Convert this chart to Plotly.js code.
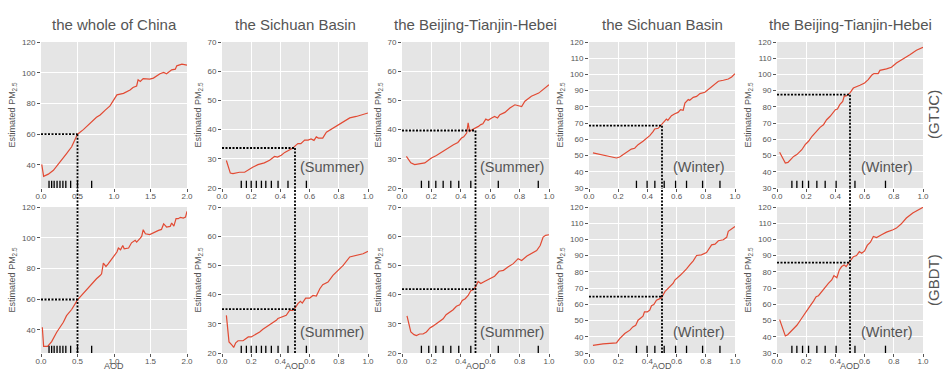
<!DOCTYPE html>
<html>
<head>
<meta charset="utf-8">
<script src="https://cdn.plot.ly/plotly-3.0.1.min.js"></script>
<style>html,body{margin:0;padding:0;background:#fff;}#chart{width:946px;height:372px;}</style>
</head>
<body>
<div id="chart"></div>
<script>
// ---- Data ----
var panelTitles = ["the whole of China", "the Sichuan Basin", "the Beijing-Tianjin-Hebei", "the Sichuan Basin", "the Beijing-Tianjin-Hebei"];
var seasonLabels = ["", "(Summer)", "(Summer)", "(Winter)", "(Winter)"];
var rowLabels = ["(GTJC)", "(GBDT)"];
var xAxisTitle = "AOD";
var yAxisTitle = "Estimated PM<sub>2.5</sub>";

var chinaGTJC_x = [0.01,0.036,0.1,0.17,0.35,0.42,0.5,0.58,0.76,0.81,0.88,0.945,1.04,1.13,1.22,1.26,1.31,1.33,1.36,1.4,1.49,1.54,1.63,1.68,1.72,1.79,1.84,1.86,1.93,1.97,2.0];
var chinaGTJC_y = [40.4,32.6,34,36.5,47.4,51.8,60,63,71,72.5,75.7,78.4,85.6,86.6,88.8,90.4,91.4,95.4,94.3,96.2,95.8,96.5,99.3,100.2,99.3,101.9,102.3,104.5,105.6,105.4,105];
var chinaGBDT_x = [0.018,0.036,0.09,0.146,0.215,0.306,0.35,0.42,0.5,0.58,0.67,0.76,0.81,0.83,0.854,0.89,0.92,0.99,1.04,1.06,1.09,1.12,1.14,1.2,1.24,1.29,1.31,1.36,1.38,1.4,1.43,1.49,1.54,1.61,1.65,1.68,1.7,1.72,1.77,1.79,1.82,1.85,1.88,1.91,1.95,1.98,2.0];
var chinaGBDT_y = [41.7,29.3,29.3,32.4,38.5,45,49.3,53.3,59.6,64,68.9,73.3,75.4,76.5,83.5,81.3,83,87.4,90.7,93.3,92.2,95,92.8,93.3,96.7,98.3,97.2,99.8,101,105.2,102.6,102,103.3,104.8,105.4,109,108,107,107.4,109.6,107.6,112.4,112.4,113.3,112.8,113.5,117.2];

var scSummerGTJC_x = [0.03,0.057,0.075,0.12,0.155,0.18,0.21,0.246,0.29,0.326,0.35,0.36,0.38,0.406,0.43,0.46,0.486,0.505,0.52,0.54,0.566,0.59,0.61,0.63,0.646,0.66,0.69,0.715,0.76,0.806,0.85,0.875,0.92,0.966,1.0];
var scSummerGTJC_y = [29.4,25.1,24.9,25.4,25.4,26.3,27.1,28,28.6,29.5,30.3,30.8,30.6,31.2,32.2,32.9,33.7,34.6,35.2,35.2,36.4,36.4,36.8,36.3,37.5,37.1,37.1,39.1,40.5,42,43.4,44,44.5,45.1,45.7];
var scSummerGBDT_x = [0.03,0.048,0.07,0.08,0.094,0.11,0.144,0.167,0.18,0.2,0.235,0.258,0.28,0.315,0.35,0.372,0.383,0.406,0.44,0.463,0.486,0.505,0.52,0.537,0.55,0.573,0.6,0.623,0.646,0.67,0.69,0.726,0.76,0.795,0.83,0.875,0.92,0.966,1.0];
var scSummerGBDT_y = [32.9,23.8,22.6,21.9,23.5,24.2,24.2,24.9,25.5,25.5,26.4,27.2,28.1,29.2,30.6,31.2,31.8,32.3,32.9,34.6,34.6,35.7,36.9,37.7,37.1,38.8,38.8,39.7,39.5,42,43.4,44.3,46.6,48.3,50,52.9,53.4,54,54.8];

var bthSummerGTJC_x = [0.03,0.06,0.086,0.13,0.155,0.177,0.2,0.234,0.268,0.29,0.314,0.35,0.38,0.405,0.42,0.44,0.45,0.46,0.47,0.495,0.52,0.536,0.55,0.57,0.586,0.61,0.63,0.65,0.666,0.7,0.734,0.768,0.814,0.836,0.88,0.93,0.973,1.0];
var bthSummerGTJC_y = [30.8,28.6,28,28.4,28.6,29.4,30.3,31.1,32.2,33.1,33.9,34.8,35.6,37.1,37.5,38.8,42.3,39.4,39.8,40.4,41.1,41.7,42,43.6,43.2,44,44.5,44,45.1,45.9,47.4,48.5,47.9,49.7,51.4,52.5,54.2,55.4];
var bthSummerGBDT_x = [0.034,0.06,0.082,0.098,0.12,0.143,0.166,0.19,0.21,0.234,0.257,0.28,0.3,0.325,0.348,0.37,0.393,0.41,0.43,0.45,0.468,0.484,0.5,0.518,0.536,0.564,0.6,0.63,0.66,0.69,0.723,0.757,0.79,0.814,0.85,0.88,0.916,0.94,0.96,0.977,1.0];
var bthSummerGBDT_y = [32.7,27.2,26.3,26,26.5,26.5,27.2,28.6,29.2,30,30.8,31.7,33.1,34,34.8,36,36.5,38,38.6,39.7,41.3,41.7,42.6,44.5,43.8,44.6,45.4,46.3,48,48.3,49.5,50.6,52.3,51.7,53.2,54,55.1,56.8,59.7,60.3,60.5];

var scWinterGTJC_x = [0.027,0.096,0.14,0.188,0.21,0.245,0.268,0.29,0.313,0.336,0.37,0.394,0.416,0.44,0.45,0.474,0.497,0.52,0.53,0.54,0.565,0.588,0.61,0.627,0.645,0.657,0.68,0.69,0.714,0.737,0.76,0.794,0.828,0.863,0.886,0.92,0.954,0.977,1.0];
var scWinterGTJC_y = [51.6,50.3,49.5,48.5,49.1,51.2,53,54,54.5,56.7,58.8,60.6,62.3,64.9,66.4,66.8,69,71.7,72.5,71.7,74.6,75.8,76.6,78.3,77.9,82.4,84.5,84.1,85.9,86.5,88.2,89,91.6,93.7,95.8,96.4,97.2,98.4,100.5];
var scWinterGBDT_x = [0.027,0.096,0.188,0.21,0.245,0.28,0.3,0.32,0.336,0.36,0.37,0.38,0.4,0.416,0.428,0.444,0.462,0.478,0.497,0.52,0.54,0.565,0.577,0.588,0.61,0.627,0.64,0.657,0.668,0.69,0.714,0.737,0.77,0.805,0.828,0.84,0.863,0.886,0.92,0.943,0.954,0.977,1.0];
var scWinterGBDT_y = [34.7,35.6,36.2,38.9,42,44.1,46.1,47.1,50.2,51.7,52.7,55.4,55.4,56.4,59.1,59.9,62.6,63.2,64.1,67.8,69.8,71.9,73,75,77.1,78.1,79.2,81.2,81.8,84.3,86.8,90.1,90.5,91.9,94.6,96.7,97.1,99.2,99.8,101.3,105,106.4,108];

var bthWinterGTJC_x = [0.018,0.045,0.057,0.075,0.09,0.114,0.136,0.16,0.17,0.193,0.216,0.24,0.25,0.273,0.295,0.318,0.34,0.364,0.386,0.4,0.414,0.43,0.45,0.46,0.477,0.5,0.523,0.545,0.568,0.6,0.625,0.648,0.664,0.693,0.705,0.75,0.784,0.818,0.864,0.91,0.955,1.0];
var bthWinterGTJC_y = [52,47.9,45.4,45.8,47.5,49.5,50.6,52.6,53.6,56.7,58.8,61.9,62.9,64.9,67.4,69,72.1,74.2,76.6,78.3,78.7,81.4,83.4,86.5,86.9,88.6,91.6,92.3,93.3,94.7,96.8,99.5,100.5,100.5,102.5,103.4,104.4,107.1,109.5,112.2,114.9,116.7];
var bthWinterGBDT_x = [0.018,0.045,0.057,0.073,0.09,0.114,0.136,0.16,0.182,0.193,0.21,0.227,0.25,0.268,0.284,0.307,0.33,0.352,0.375,0.39,0.41,0.427,0.443,0.46,0.473,0.49,0.505,0.523,0.545,0.564,0.58,0.6,0.618,0.64,0.66,0.682,0.716,0.75,0.795,0.818,0.85,0.886,0.93,0.966,1.0];
var bthWinterGBDT_y = [50.6,43,40.5,41.3,43,45.5,47.1,50.2,53.3,54.4,57.5,59.1,62,64.7,65.3,67.8,70.9,72.9,75,77.7,76.4,81.2,83.3,84.3,83.3,85.3,86.8,89.4,90.1,92.5,91.5,92.9,96.3,98.3,101.8,101.2,102.9,104.5,106,107,109.5,113.2,116.3,117.9,119.8];

// rug (AOD sample positions) per column
var rugChina = [0.11,0.146,0.18,0.22,0.26,0.30,0.34,0.406,0.50,0.694];
var rugSCSummer = [0.132,0.167,0.2,0.235,0.27,0.30,0.338,0.384,0.452,0.578];
var rugBTHSummer = [0.132,0.182,0.23,0.28,0.332,0.386,0.468,0.655,0.927];
var rugSCWinter = [0.325,0.398,0.451,0.515,0.593,0.668,0.778,0.897];
var rugBTHWinter = [0.102,0.136,0.175,0.216,0.273,0.33,0.405,0.534,0.743];

// threshold AOD and estimated PM2.5 at that threshold
var aodThreshold = 0.5;
var pmAtThresholdGTJC = [60, 33.7, 39.7, 68.4, 87.5];
var pmAtThresholdGBDT = [59.8, 35, 41.9, 64.7, 85.7];

// axis ranges / ticks
var xRanges = [[0,2],[0,1],[0,1],[0,1],[0,1]];
var xTickVals = [[0,0.5,1,1.5,2],[0,0.2,0.4,0.6,0.8,1],[0,0.2,0.4,0.6,0.8,1],[0,0.2,0.4,0.6,0.8,1],[0,0.2,0.4,0.6,0.8,1]];
var yRanges = [[25,120],[20,70],[20,70],[30,120],[30,120]];
var yTickVals = [[40,60,80,100,120],[20,30,40,50,60,70],[20,30,40,50,60,70],[30,40,50,60,70,80,90,100,110,120],[30,40,50,60,70,80,90,100,110,120]];

// ---- build ----
var seriesGTJC = [[chinaGTJC_x,chinaGTJC_y],[scSummerGTJC_x,scSummerGTJC_y],[bthSummerGTJC_x,bthSummerGTJC_y],[scWinterGTJC_x,scWinterGTJC_y],[bthWinterGTJC_x,bthWinterGTJC_y]];
var seriesGBDT = [[chinaGBDT_x,chinaGBDT_y],[scSummerGBDT_x,scSummerGBDT_y],[bthSummerGBDT_x,bthSummerGBDT_y],[scWinterGBDT_x,scWinterGBDT_y],[bthWinterGBDT_x,bthWinterGBDT_y]];
var rugs = [rugChina, rugSCSummer, rugBTHSummer, rugSCWinter, rugBTHWinter];

var W = 946, H = 372;
var colPx = [[41,187],[222,368],[402,549],[589,735],[777,923]];
var rowPx = [[42,188],[207,353]];
var grey = '#555555';
var red = '#E24A33';
var fontFam = 'Liberation Sans, Arial, Helvetica, sans-serif';

var traces = [], shapes = [], annotations = [];
var layout = {
  width: W, height: H,
  margin: {l:0, r:0, t:0, b:0},
  paper_bgcolor: '#ffffff',
  plot_bgcolor: '#E5E5E5',
  showlegend: false,
  font: {family: fontFam, color: grey, size: 8}
};

for (var r = 0; r < 2; r++) {
  for (var c = 0; c < 5; c++) {
    var idx = r*5 + c + 1;
    var xa = 'x' + (idx === 1 ? '' : idx), ya = 'y' + (idx === 1 ? '' : idx);
    var xkey = 'xaxis' + (idx === 1 ? '' : idx), ykey = 'yaxis' + (idx === 1 ? '' : idx);
    var s = (r === 0 ? seriesGTJC : seriesGBDT)[c];
    traces.push({x: s[0], y: s[1], type: 'scatter', mode: 'lines', xaxis: xa, yaxis: ya,
      line: {color: red, width: 1.2}, hoverinfo: 'skip'});
    layout[xkey] = {
      domain: [colPx[c][0]/W, colPx[c][1]/W], anchor: ya, range: xRanges[c],
      tickvals: xTickVals[c], tickformat: '.1f', ticks: 'outside', ticklen: 3, tickcolor: grey, tickwidth: 1,
      ticklabelstandoff: -3,
      showgrid: true, gridcolor: '#ffffff', gridwidth: 1, zeroline: false, showline: false,
      tickfont: {size: 8, color: grey, family: fontFam}, automargin: false
    };
    layout[ykey] = {
      domain: [1 - rowPx[r][1]/H, 1 - rowPx[r][0]/H], anchor: xa, range: yRanges[c],
      tickvals: yTickVals[c], ticks: 'outside', ticklen: 3, tickcolor: grey, tickwidth: 1,
      showgrid: true, gridcolor: '#ffffff', gridwidth: 1, zeroline: false, showline: false,
      tickfont: {size: 8, color: grey, family: fontFam}, automargin: false,
      title: {text: yAxisTitle, font: {size: 9, color: grey, family: fontFam}, standoff: 4}
    };
    // rug marks
    rugs[c].forEach(function (v) {
      shapes.push({type: 'line', xref: xa, yref: ya + ' domain', x0: v, x1: v, y0: 0, y1: 0.05,
        line: {color: '#000000', width: 1.3}});
    });
    var pm = (r === 0 ? pmAtThresholdGTJC : pmAtThresholdGBDT)[c];
    // horizontal dotted
    shapes.push({type: 'line', xref: xa, yref: ya, x0: xRanges[c][0], x1: aodThreshold, y0: pm, y1: pm,
      line: {color: '#000000', width: 1.8, dash: '2px,1.5px'}});
    if (r === 0) {
      shapes.push({type: 'line', xref: xa, yref: ya, x0: aodThreshold, x1: aodThreshold, y0: pm, y1: yRanges[c][0],
        line: {color: '#000000', width: 1.8, dash: '2px,1.5px'}});
    } else {
      shapes.push({type: 'line', xref: xa, yref: 'paper', x0: aodThreshold, x1: aodThreshold,
        y0: 1 - rowPx[1][1]/H, y1: 1 - rowPx[0][1]/H,
        line: {color: '#000000', width: 1.8, dash: '2px,1.5px'}});
      annotations.push({text: xAxisTitle, xref: xa + ' domain', yref: 'paper', x: 0.5, y: 0,
        xanchor: 'center', yanchor: 'bottom', borderpad: 0, showarrow: false,
        font: {size: 9, color: grey, family: fontFam}});
    }
    if (r === 0) {
      annotations.push({text: panelTitles[c], xref: xa + ' domain', yref: ya + ' domain', x: 0.5, y: 1,
        yanchor: 'bottom', xanchor: 'center', yshift: 7, showarrow: false,
        font: {size: 15, color: grey, family: fontFam}});
    }
    if (seasonLabels[c]) {
      annotations.push({text: seasonLabels[c], xref: xa + ' domain', yref: ya + ' domain', x: 0.75, y: 0.145,
        xanchor: 'center', yanchor: 'middle', showarrow: false,
        font: {size: 14.5, color: grey, family: fontFam}});
    }
  }
}
annotations.push({text: rowLabels[0], xref: 'paper', yref: 'y5 domain', x: 933/W, y: 0.5, textangle: -90,
  xanchor: 'center', yanchor: 'middle', showarrow: false, font: {size: 15, color: grey, family: fontFam}});
annotations.push({text: rowLabels[1], xref: 'paper', yref: 'y10 domain', x: 933/W, y: 0.5, textangle: -90,
  xanchor: 'center', yanchor: 'middle', showarrow: false, font: {size: 15, color: grey, family: fontFam}});

layout.shapes = shapes;
layout.annotations = annotations;

Plotly.newPlot('chart', traces, layout, {displayModeBar: false, staticPlot: true});
</script>
</body>
</html>
